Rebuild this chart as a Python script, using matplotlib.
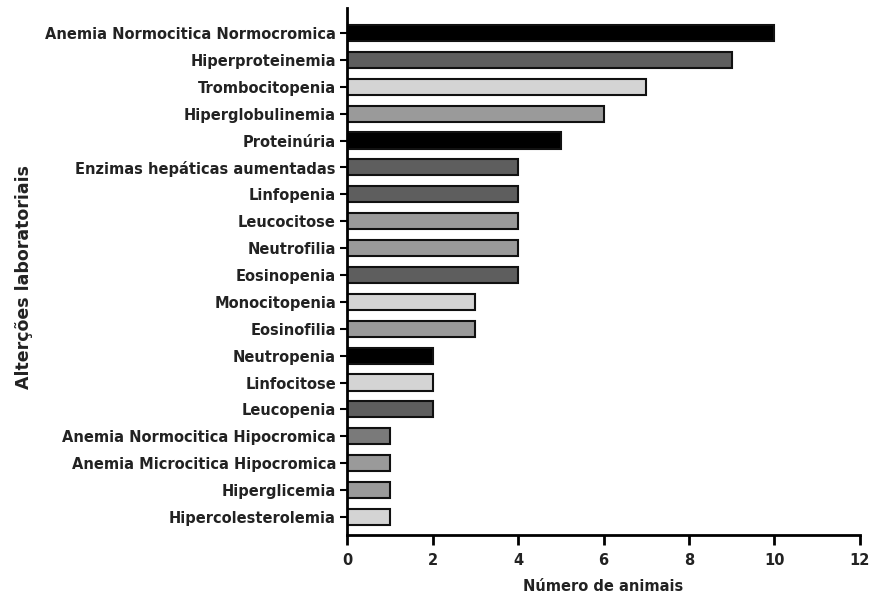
import matplotlib
matplotlib.use('Agg')
import matplotlib.pyplot as plt

plt.rcParams['font.family'] = ['DejaVu Sans']

# counts per lab finding, top to bottom
categories = [
    "Anemia Normocitica Normocromica", "Hiperproteinemia", "Trombocitopenia",
    "Hiperglobulinemia", "Proteinúria", "Enzimas hepáticas aumentadas",
    "Linfopenia", "Leucocitose", "Neutrofilia", "Eosinopenia",
    "Monocitopenia", "Eosinofilia", "Neutropenia", "Linfocitose",
    "Leucopenia", "Anemia Normocitica Hipocromica",
    "Anemia Microcitica Hipocromica", "Hiperglicemia", "Hipercolesterolemia",
]
counts = [10, 9, 7, 6, 5, 4, 4, 4, 4, 4, 3, 3, 2, 2, 2, 1, 1, 1, 1]
fills = [
    "#000000", "#5e5e5e", "#d4d4d4", "#9a9a9a", "#000000", "#5e5e5e",
    "#5e5e5e", "#9a9a9a", "#9a9a9a", "#5e5e5e", "#d4d4d4", "#9a9a9a",
    "#000000", "#d4d4d4", "#5e5e5e", "#7a7a7a", "#9a9a9a", "#9a9a9a",
    "#d4d4d4",
]
xticks = [0, 2, 4, 6, 8, 10, 12]

fig = plt.figure(figsize=(8.77, 6.01), dpi=100)
ax = fig.add_axes([0.3957, 0.1098, 0.5849, 0.877])

ypos = list(range(len(categories)))[::-1]
ax.barh(ypos, counts, height=0.6, color=fills, edgecolor="#111111", linewidth=1.5)

ax.set_yticks(ypos)
ax.set_yticklabels(categories, fontsize=10.5, fontweight="bold", color="#222222")
ax.set_xticks(xticks)
ax.set_xticklabels([str(t) for t in xticks], fontsize=10.5, fontweight="bold", color="#222222")
ax.set_xlim(0, 12)
ax.set_ylim(-0.67, len(categories) - 1 + 0.93)

for side in ("top", "right"):
    ax.spines[side].set_visible(False)
for side in ("left", "bottom"):
    ax.spines[side].set_linewidth(2)
ax.tick_params(axis="y", length=5, width=1.5, pad=3)
ax.tick_params(axis="x", length=7, width=2, pad=6)

ax.set_xlabel("Número de animais", fontsize=10.5, fontweight="bold", color="#222222")
ax.xaxis.set_label_coords(0.5, -0.083)
ax.set_ylabel("Alterções laboratoriais", fontsize=12.5, fontweight="bold", color="#222222")
ax.yaxis.set_label_coords(-0.612, 0.49)

fig.savefig("out.png", dpi=100)
